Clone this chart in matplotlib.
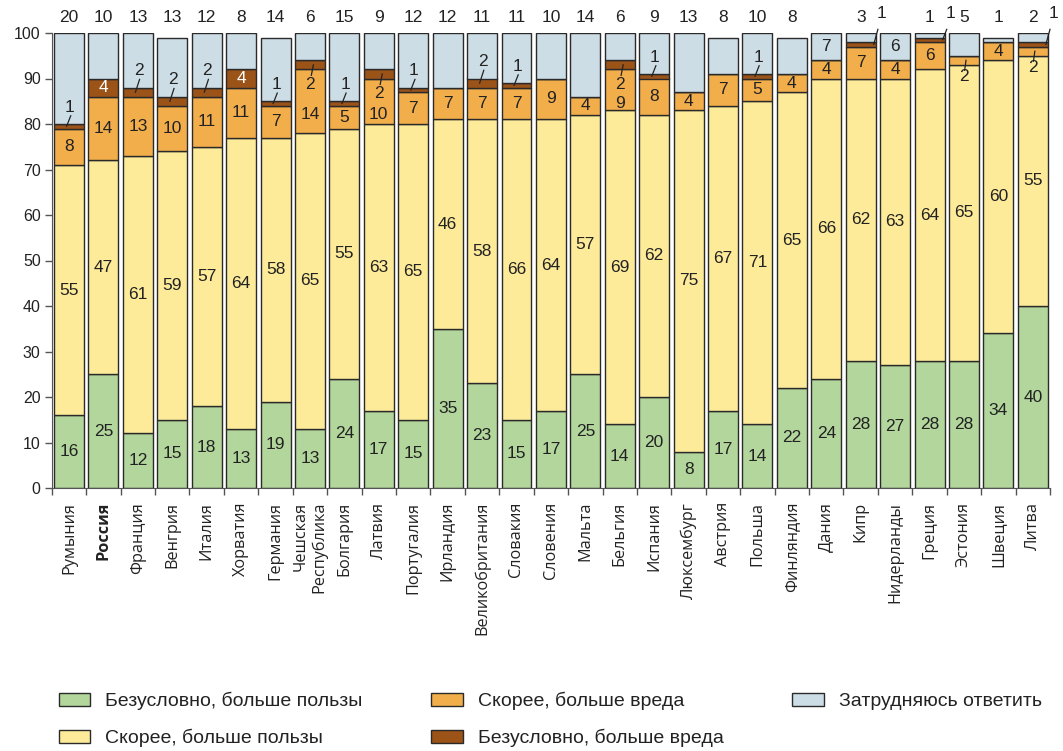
import numpy as np
import matplotlib
matplotlib.use('Agg')
import matplotlib.pyplot as plt
from matplotlib.patches import Patch
from matplotlib.ticker import FixedLocator

countries = ['Румыния', 'Россия', 'Франция', 'Венгрия', 'Италия', 'Хорватия', 'Германия',
             'Чешская\nРеспублика', 'Болгария', 'Латвия', 'Португалия', 'Ирландия',
             'Великобритания', 'Словакия', 'Словения', 'Мальта', 'Бельгия', 'Испания',
             'Люксембург', 'Австрия', 'Польша', 'Финляндия', 'Дания', 'Кипр', 'Нидерланды',
             'Греция', 'Эстония', 'Швеция', 'Литва']
sure_good = [16, 25, 12, 15, 18, 13, 19, 13, 24, 17, 15, 35, 23, 15, 17, 25, 14, 20, 8, 17,
             14, 22, 24, 28, 27, 28, 28, 34, 40]
rather_good = [55, 47, 61, 59, 57, 64, 58, 65, 55, 63, 65, 46, 58, 66, 64, 57, 69, 62, 75, 67,
               71, 65, 66, 62, 63, 64, 65, 60, 55]
rather_bad = [8, 14, 13, 10, 11, 11, 7, 14, 5, 10, 7, 7, 7, 7, 9, 4, 9, 8, 4, 7,
              5, 4, 4, 7, 4, 6, 2, 4, 2]
sure_bad = [1, 4, 2, 2, 2, 4, 1, 2, 1, 2, 1, 0, 2, 1, 0, 0, 2, 1, 0, 0,
            1, 0, 0, 1, 0, 1, 0, 0, 1]
no_answer = [20, 10, 13, 13, 12, 8, 14, 6, 15, 9, 12, 12, 11, 11, 10, 14, 6, 9, 13, 8,
             10, 8, 7, 3, 6, 1, 5, 1, 2]
series_names = ['Безусловно, больше пользы', 'Скорее, больше пользы', 'Скорее, больше вреда',
                'Безусловно, больше вреда', 'Затрудняюсь ответить']

# label placement quirks
brown_in_orange = {'Чешская\nРеспублика', 'Латвия', 'Бельгия'}
brown_top_right = {'Кипр', 'Греция', 'Литва'}
blue_inside = {'Дания', 'Нидерланды'}
orange_below = {'Эстония', 'Литва'}

colors = ['#b2d69c', '#fdeb99', '#f3ae4c', '#9c5317', '#cddde5']
edge = '#2a2a2a'
txt = '#222222'
num_font = ['Liberation Sans', 'DejaVu Sans']
nfs = 12.5

fig = plt.figure(figsize=(10.63, 7.51), dpi=100)
ax = fig.add_axes([51.8 / 1063, 1 - 488 / 751, (1050 - 51.8) / 1063, (488 - 33) / 751])

x = np.arange(len(countries))
segs = [sure_good, rather_good, rather_bad, sure_bad, no_answer]
bottom = np.zeros(len(x))
for k, (vals, col) in enumerate(zip(segs, colors)):
    h = np.array(vals, dtype=float)
    if k == 4:
        h = np.minimum(h, 100 - bottom)
    ax.bar(x, h, 0.87, bottom=bottom, color=col, edgecolor=edge, linewidth=1.0, zorder=2)
    bottom = bottom + h


def put(xx, yy, s, color=txt):
    ax.text(xx, yy, s, ha='center', va='center', fontsize=nfs, family=num_font,
            color=color, clip_on=False, zorder=5)


def leader(x0, y0, x1, y1):
    ax.plot([x0, x1], [y0, y1], color='#222222', lw=0.9, clip_on=False, zorder=5)


for i, c in enumerate(countries):
    g, y_, o, b, n = sure_good[i], rather_good[i], rather_bad[i], sure_bad[i], no_answer[i]
    put(i, g / 2, str(g))
    put(i, g + y_ / 2, str(y_))
    o0 = g + y_
    b0 = o0 + o
    btop = b0 + b
    # orange
    if c in orange_below:
        put(i, o0 - 2.6, str(o))
        leader(i + 0.06, o0 + o / 2, i + 0.02, o0 - 1.2)
    elif c in brown_in_orange:
        put(i, o0 + o / 2 - 3, str(o))
    else:
        put(i, o0 + o / 2, str(o))
    # brown
    if b >= 3:
        put(i, b0 + b / 2, str(b), color='white')
    elif b > 0:
        if c in brown_in_orange:
            put(i, b0 - 3.3, str(b))
            leader(i + 0.1, b0 + b / 2, i + 0.04, b0 - 1.3)
        elif c in brown_top_right:
            leader(i + 0.38, btop - 0.5, i + 0.5, 100.8)
            put(i + 0.6, 104.2, str(b))
        else:
            leader(i - 0.07, b0 + b / 2, i + 0.05, btop + 1.8)
            put(i + 0.02, btop + 3.7, str(b))
    # no answer
    if c in blue_inside:
        put(i, 97, str(n))
    else:
        put(i, 103.4, str(n))

ax.set_xlim(-0.5, len(countries) - 0.5)
ax.set_ylim(0, 100)
ax.set_yticks(np.arange(0, 101, 10))
ax.tick_params(axis='y', length=5, width=1, color='#555555', labelsize=11.5, labelcolor=txt, pad=3)
for lab in ax.get_yticklabels():
    lab.set_family(['Liberation Sans', 'DejaVu Sans'])
ax.set_xticks(x)
ax.set_xticklabels(countries, rotation=90, fontsize=11.7, family=['Open Sans', 'DejaVu Sans'],
                   color=txt, multialignment='right')
ax.get_xticklabels()[1].set_fontweight('bold')
ax.xaxis.set_minor_locator(FixedLocator(np.arange(-0.5, len(countries), 1.0)))
ax.tick_params(axis='x', which='major', length=0, pad=10)
ax.tick_params(axis='x', which='minor', length=5, width=1, color='#555555')
for s in ['top', 'right']:
    ax.spines[s].set_visible(False)
ax.spines['left'].set_color('#555555')
ax.spines['bottom'].set_color('#555555')

handles = [Patch(facecolor=col, edgecolor=edge, linewidth=1.0) for col in colors]
fig.legend(handles, series_names, loc='upper left', bbox_to_anchor=(59 / 1063, 1 - 692 / 751),
           ncol=3, frameon=False, prop={'family': num_font, 'size': 14},
           handlelength=1.6, handleheight=0.67, handletextpad=0.77, columnspacing=3.55,
           labelspacing=0.95, labelcolor=txt, borderpad=0, borderaxespad=0)

fig.savefig('out.png', dpi=100)
